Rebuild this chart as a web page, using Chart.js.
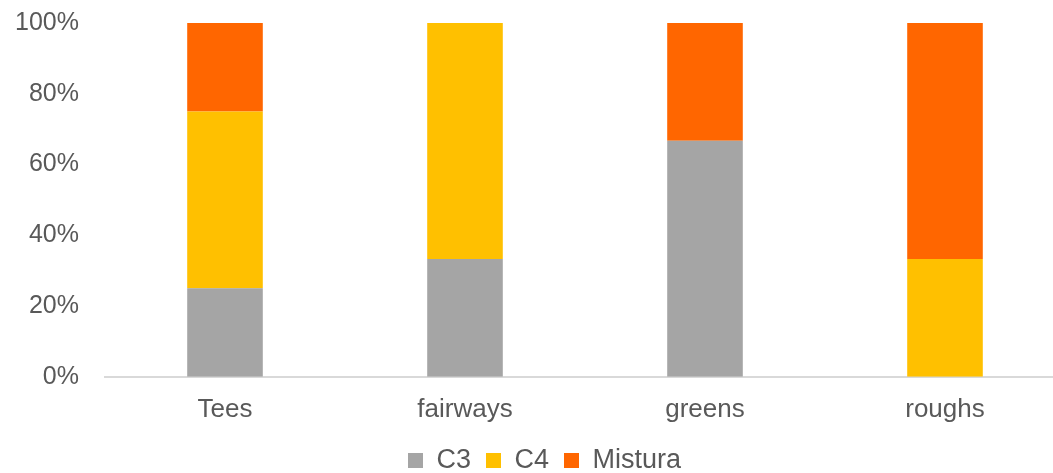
<!DOCTYPE html>
<html>
<head>
<meta charset="utf-8">
<script src="https://cdn.jsdelivr.net/npm/chart.js@4.4.1/dist/chart.umd.min.js"></script>
<style>
  html, body { margin: 0; padding: 0; background: #fff; overflow: hidden; }
  #wrap { width: 1065px; height: 473px; position: relative; }
</style>
</head>
<body>
<div id="wrap"><canvas id="chart"></canvas></div>
<script>
// categorias e series (percentagem de cada tipo de relva)
const categories = ['Tees', 'fairways', 'greens', 'roughs'];
const c3 = [25, 33.3, 66.7, 0];
const c4 = [50, 66.7, 0, 33.3];
const mistura = [25, 0, 33.3, 66.7];
const yTicks = [0, 20, 40, 60, 80, 100];

const textColor = '#595959';
const fontFamily = '"Liberation Sans", Arial, sans-serif';

// legenda mais baixa e deslocada para ficar como no original
const legendFix = {
  id: 'legendFix',
  beforeLayout(chart) {
    const lg = chart.legend;
    if (!lg || lg._patched) return;
    const fit = lg.fit.bind(lg);
    lg.fit = function () { fit(); this.height -= 13; };
    lg._patched = true;
  },
  afterLayout(chart) {
    const lg = chart.legend;
    if (!lg) return;
    lg.left += 12; lg.right += 12;
    lg.top -= 2; lg.bottom -= 2;
  }
};

new Chart(document.getElementById('chart'), {
  type: 'bar',
  data: {
    labels: categories,
    datasets: [
      { label: 'C3', data: c3, backgroundColor: '#A5A5A5' },
      { label: 'C4', data: c4, backgroundColor: '#FFC000' },
      { label: 'Mistura', data: mistura, backgroundColor: '#FF6600' }
    ]
  },
  plugins: [legendFix],
  options: {
    responsive: true,
    maintainAspectRatio: false,
    animation: false,
    layout: { padding: { top: 23, right: 0, left: 0, bottom: 0 } },
    datasets: { bar: { barPercentage: 0.315, categoryPercentage: 1 } },
    plugins: {
      tooltip: { enabled: false },
      legend: {
        position: 'bottom',
        labels: {
          color: textColor,
          font: { family: fontFamily, size: 27 },
          boxWidth: 15, boxHeight: 15, padding: 15
        }
      }
    },
    scales: {
      x: {
        stacked: true,
        grid: { display: false },
        border: { color: '#D9D9D9', width: 2 },
        ticks: { color: textColor, font: { family: fontFamily, size: 26 }, padding: 9 }
      },
      y: {
        stacked: true,
        min: 0, max: 100,
        afterFit: (s) => { s.width = 105; s.paddingTop = 0; s.paddingBottom = 0; },
        afterBuildTicks: (s) => { s.ticks = yTicks.map(v => ({ value: v })); },
        grid: { display: false },
        border: { display: false },
        ticks: {
          color: textColor,
          font: { family: fontFamily, size: 25 },
          padding: 18,
          callback: (v) => v + '%'
        }
      }
    }
  }
});
</script>
</body>
</html>
